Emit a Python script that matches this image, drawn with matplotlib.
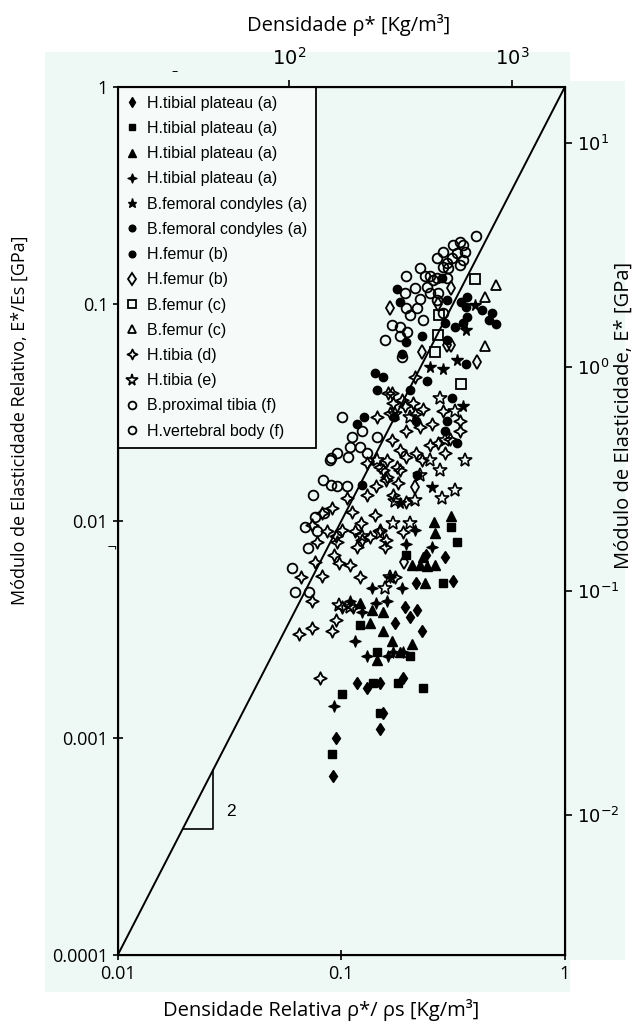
import numpy as np
import matplotlib
matplotlib.use("Agg")
import matplotlib.pyplot as plt
from matplotlib.path import Path
from matplotlib.patches import Rectangle
from matplotlib.lines import Line2D
from matplotlib.ticker import NullLocator

# ---------- data (relative density, relative modulus) ----------
tp_diam_x = [0.291, 0.216, 0.317, 0.192, 0.218, 0.174, 0.202, 0.229, 0.118, 0.131, 0.149, 0.188, 0.095, 0.149, 0.153, 0.092, 0.240]
tp_diam_y = [0.0068, 0.0052, 0.0053, 0.0040, 0.0039, 0.0034, 0.0036, 0.0031, 0.0018, 0.0017, 0.0018, 0.0019, 0.0010, 0.0011, 0.0013, 0.00067, 0.0070]

tp_sq_x = [0.195, 0.284, 0.310, 0.330, 0.121, 0.145, 0.202, 0.138, 0.179, 0.231, 0.101, 0.149, 0.091]
tp_sq_y = [0.0070, 0.0052, 0.0094, 0.0080, 0.0033, 0.0025, 0.0024, 0.0018, 0.0018, 0.0017, 0.0016, 0.0013, 0.00084]

tp_tri_x = [0.260, 0.310, 0.262, 0.231, 0.207, 0.224, 0.243, 0.262, 0.236, 0.121, 0.137, 0.153, 0.134, 0.153, 0.207, 0.183, 0.145, 0.168]
tp_tri_y = [0.0099, 0.0105, 0.0088, 0.0068, 0.0063, 0.0063, 0.0062, 0.0063, 0.0052, 0.0042, 0.0039, 0.0038, 0.0034, 0.0031, 0.0027, 0.0025, 0.0023, 0.0028]

tp_x4_x = [0.109, 0.143, 0.165, 0.124, 0.160, 0.115, 0.131, 0.161, 0.188, 0.213, 0.255, 0.093, 0.137, 0.186, 0.195, 0.170]
tp_x4_y = [0.0043, 0.0042, 0.0055, 0.0038, 0.0043, 0.0028, 0.0024, 0.0024, 0.0025, 0.0091, 0.0076, 0.0014, 0.0049, 0.0049, 0.0078, 0.0025]

fc_star_x = [0.396, 0.360, 0.330, 0.249, 0.284, 0.350, 0.255, 0.183]
fc_star_y = [0.099, 0.076, 0.055, 0.051, 0.050, 0.034, 0.0143, 0.0121]

fc_circ_x = [0.178, 0.183, 0.281, 0.296, 0.366, 0.360, 0.345, 0.366, 0.350, 0.425, 0.470, 0.490, 0.460]
fc_circ_y = [0.117, 0.102, 0.132, 0.104, 0.108, 0.097, 0.102, 0.087, 0.082, 0.094, 0.091, 0.081, 0.084]

hf_circ_x = [0.322, 0.296, 0.186, 0.360, 0.243, 0.202, 0.313, 0.172, 0.296, 0.291, 0.330, 0.153, 0.141, 0.145,
             0.117, 0.127, 0.124, 0.218, 0.230, 0.291, 0.195, 0.216]
hf_circ_y = [0.078, 0.068, 0.059, 0.053, 0.044, 0.040, 0.037, 0.030, 0.029, 0.026, 0.023, 0.046, 0.048, 0.040,
             0.028, 0.030, 0.0147, 0.0163, 0.071, 0.082, 0.067, 0.029]

hf_diam_x = [0.165, 0.310, 0.310, 0.406, 0.229, 0.296, 0.213, 0.190, 0.270]
hf_diam_y = [0.096, 0.119, 0.065, 0.054, 0.060, 0.065, 0.0144, 0.0065, 0.100]

bf_sq_x = [0.396, 0.273, 0.270, 0.262, 0.345]
bf_sq_y = [0.130, 0.089, 0.072, 0.060, 0.043]

bf_tri_x = [0.490, 0.440, 0.440]
bf_tri_y = [0.122, 0.108, 0.064]

ht_d_x = [0.082, 0.091, 0.074, 0.086, 0.095, 0.101, 0.078, 0.096, 0.093, 0.076, 0.098, 0.082, 0.066, 0.074,
          0.109, 0.121, 0.101, 0.095, 0.074, 0.065, 0.091, 0.080, 0.106, 0.112, 0.123, 0.115, 0.124, 0.118,
          0.134, 0.149, 0.159, 0.157, 0.131, 0.143, 0.159, 0.153, 0.177, 0.179, 0.170, 0.141, 0.188, 0.174,
          0.113, 0.195, 0.170, 0.192, 0.210, 0.213, 0.231, 0.195, 0.224, 0.255, 0.284, 0.339, 0.339, 0.306,
          0.270, 0.249, 0.216, 0.195, 0.229, 0.291, 0.183, 0.160, 0.213, 0.168, 0.144, 0.165, 0.186, 0.162,
          0.168, 0.131, 0.149, 0.160, 0.183]
ht_d_y = [0.0109, 0.0115, 0.0096, 0.0090, 0.0085, 0.0091, 0.0080, 0.0080, 0.0070, 0.0065, 0.0064, 0.0056, 0.0055, 0.0043,
          0.0063, 0.0055, 0.0040, 0.0035, 0.0032, 0.0030, 0.0031, 0.0019, 0.0128, 0.0110, 0.0098, 0.0090, 0.0082, 0.0076,
          0.0084, 0.0091, 0.0082, 0.0076, 0.0132, 0.0145, 0.0155, 0.0172, 0.0178, 0.0150, 0.0132, 0.0107, 0.0089, 0.0055,
          0.0040, 0.0122, 0.035, 0.034, 0.035, 0.031, 0.033, 0.026, 0.027, 0.028, 0.032, 0.029, 0.026, 0.024,
          0.023, 0.0224, 0.0206, 0.0198, 0.0191, 0.0206, 0.0212, 0.0191, 0.046, 0.039, 0.030, 0.0315, 0.036, 0.039,
          0.0236, 0.0185, 0.0178, 0.0160, 0.0172]

ht_e_x = [0.174, 0.213, 0.202, 0.170, 0.149, 0.276, 0.291, 0.249, 0.224, 0.174, 0.124, 0.165, 0.157, 0.109,
          0.098, 0.322, 0.276, 0.202, 0.145, 0.357, 0.322, 0.281]
ht_e_y = [0.0124, 0.0125, 0.0098, 0.0098, 0.0088, 0.0172, 0.0236, 0.0191, 0.0163, 0.031, 0.0085, 0.0055, 0.0049, 0.0040,
          0.0041, 0.032, 0.037, 0.030, 0.0191, 0.0191, 0.0139, 0.0128]

pt_circ_x = [0.400, 0.339, 0.350, 0.317, 0.357, 0.284, 0.328, 0.313, 0.350, 0.339, 0.296, 0.284, 0.195, 0.236,
             0.249, 0.256, 0.267, 0.296, 0.213, 0.243, 0.249, 0.270, 0.267, 0.157, 0.183, 0.202, 0.183, 0.197,
             0.186, 0.195, 0.218, 0.224, 0.284, 0.231, 0.168, 0.192, 0.224, 0.267, 0.300]
pt_circ_y = [0.206, 0.193, 0.187, 0.187, 0.173, 0.173, 0.172, 0.163, 0.160, 0.151, 0.154, 0.148, 0.134, 0.134,
             0.134, 0.129, 0.132, 0.132, 0.119, 0.120, 0.112, 0.112, 0.104, 0.068, 0.078, 0.089, 0.071, 0.074,
             0.057, 0.096, 0.096, 0.106, 0.091, 0.084, 0.080, 0.113, 0.147, 0.163, 0.147]

vb_circ_x = [0.101, 0.112, 0.124, 0.144, 0.109, 0.121, 0.090, 0.096, 0.107, 0.130, 0.083, 0.090, 0.096, 0.106,
             0.075, 0.084, 0.076, 0.069, 0.071, 0.060, 0.062, 0.072, 0.078, 0.089]
vb_circ_y = [0.030, 0.0245, 0.026, 0.0245, 0.022, 0.022, 0.0196, 0.0205, 0.0198, 0.0205, 0.0155, 0.0147, 0.0145, 0.0145,
             0.0132, 0.0109, 0.0104, 0.0094, 0.0075, 0.0061, 0.0047, 0.0047, 0.0090, 0.0191]

labels = ["H.tibial plateau (a)", "H.tibial plateau (a)", "H.tibial plateau (a)", "H.tibial plateau (a)",
          "B.femoral condyles (a)", "B.femoral condyles (a)", "H.femur (b)", "H.femur (b)",
          "B.femur (c)", "B.femur (c)", "H.tibia (d)", "H.tibia (e)",
          "B.proximal tibia (f)", "H.vertebral body (f)"]

# slope-2 guide line and the little triangle
line_x = [0.01, 1.0]
line_y = [1e-4, 1.0]
tri_x = [0.0195, 0.0266, 0.0266]
tri_y = [0.00038, 0.00038, 0.00071]

MINT = "#eef8f5"

# 4-pointed star markers (open and filled)
r = 0.32
star4 = Path([(0, 1), (r, r), (1, 0), (r, -r), (0, -1), (-r, -r), (-1, 0), (-r, r), (0, 1)],
             [Path.MOVETO] + [Path.LINETO] * 7 + [Path.CLOSEPOLY])
r2 = 0.28
star4f = Path([(0, 1), (r2, r2), (1, 0), (r2, -r2), (0, -1), (-r2, -r2), (-1, 0), (-r2, r2), (0, 1)],
              [Path.MOVETO] + [Path.LINETO] * 7 + [Path.CLOSEPOLY])

fig = plt.figure(figsize=(6.4, 10.35), dpi=100)
fig.patches.append(Rectangle((0.070, 0.0415), 0.821, 0.908, transform=fig.transFigure,
                             facecolor=MINT, edgecolor="none", zorder=-5))
fig.patches.append(Rectangle((0.883, 0.072), 0.094, 0.850, transform=fig.transFigure,
                             facecolor=MINT, edgecolor="none", zorder=-5))

ax = fig.add_axes([0.184, 0.0773, 0.6985, 0.8386])
ax.set_facecolor(MINT)
ax.set_xscale("log")
ax.set_yscale("log")
ax.set_xlim(0.01, 1)
ax.set_ylim(1e-4, 1)

ax.plot(line_x, line_y, color="black", lw=1.4, zorder=2)
ax.plot(tri_x, tri_y, color="black", lw=1.2, zorder=2)
ax.text(0.0305, 0.00046, "2", fontsize=12.5, family="Liberation Sans", ha="left", va="center")

series = [
    (tp_diam_x, tp_diam_y, dict(marker="d", ms=6.5, mfc="black", mec="black")),
    (tp_sq_x, tp_sq_y, dict(marker="s", ms=5.2, mfc="black", mec="black")),
    (tp_tri_x, tp_tri_y, dict(marker="^", ms=6.5, mfc="black", mec="black")),
    (tp_x4_x, tp_x4_y, dict(marker=star4f, ms=8.0, mfc="black", mec="black")),
    (fc_star_x, fc_star_y, dict(marker="*", ms=8.5, mfc="black", mec="black")),
    (fc_circ_x, fc_circ_y, dict(marker="o", ms=6.0, mfc="black", mec="black")),
    (hf_circ_x, hf_circ_y, dict(marker="o", ms=6.0, mfc="black", mec="black")),
    (hf_diam_x, hf_diam_y, dict(marker="d", ms=7.5, mfc="none", mec="black", mew=1.3)),
    (bf_sq_x, bf_sq_y, dict(marker="s", ms=6.5, mfc="none", mec="black", mew=1.3)),
    (bf_tri_x, bf_tri_y, dict(marker="^", ms=7.5, mfc="none", mec="black", mew=1.3)),
    (ht_d_x, ht_d_y, dict(marker=star4, ms=9.0, mfc="none", mec="black", mew=1.3)),
    (ht_e_x, ht_e_y, dict(marker="*", ms=10.5, mfc="none", mec="black", mew=1.2)),
    (pt_circ_x, pt_circ_y, dict(marker="o", ms=7.0, mfc="none", mec="black", mew=1.3)),
    (vb_circ_x, vb_circ_y, dict(marker="o", ms=7.0, mfc="none", mec="black", mew=1.3)),
]

handles = []
for (xs, ys, st), lab in zip(series, labels):
    ax.plot(xs, ys, linestyle="none", zorder=3, **st)
    handles.append(Line2D([], [], linestyle="none", label=lab, **st))

leg = ax.legend(handles=handles, loc="upper left", bbox_to_anchor=(0, 1), borderaxespad=0,
                frameon=True, fancybox=False, framealpha=1, facecolor="#f6fbfa", edgecolor="black",
                prop={"family": "Liberation Sans", "size": 11.5}, labelspacing=0.64,
                handlelength=0.7, handletextpad=0.55, borderpad=0.55, markerscale=0.8)
leg.get_frame().set_linewidth(1.3)
leg.set_zorder(5)

ax.xaxis.set_minor_locator(NullLocator())
ax.yaxis.set_minor_locator(NullLocator())
ax.set_xticks([0.01, 0.1, 1])
ax.set_xticklabels(["0.01", "0.1", "1"])
ax.set_yticks([1e-4, 1e-3, 1e-2, 0.1, 1])
ax.set_yticklabels(["0.0001", "0.001", "0.01", "0.1", "1"])
ax.tick_params(direction="inout", length=7, width=1.2, labelsize=13)
for lab in ax.get_xticklabels() + ax.get_yticklabels():
    lab.set_family("Open Sans")
for s in ax.spines.values():
    s.set_linewidth(1.5)

# top axis: density
axt = ax.twiny()
axt.set_xscale("log")
axt.set_xlim(10 ** 1.23, 10 ** 3.235)
axt.xaxis.set_minor_locator(NullLocator())
axt.set_xticks([100, 1000])
axt.set_xticklabels([r"$10^2$", r"$10^3$"])
axt.tick_params(direction="out", length=5, width=1.2, labelsize=14, pad=8)

# right axis: modulus
axr = ax.twinx()
axr.set_yscale("log")
axr.set_ylim(10 ** -2.625, 10 ** 1.25)
axr.yaxis.set_minor_locator(NullLocator())
axr.set_yticks([1e-2, 1e-1, 1, 10])
axr.set_yticklabels([r"$10^{-2}$", r"$10^{-1}$", r"$10^0$", r"$10^1$"])
axr.tick_params(direction="out", length=5, width=1.2, labelsize=13)

# scan specks from the original page
fig.text(175 / 640, 1 - 72 / 1035, "–", fontsize=9, ha="center", va="center")
fig.text(112 / 640, 1 - 548 / 1035, "¬", fontsize=9, ha="center", va="center")

fig.text(0.544, 1 - 25 / 1035, "Densidade ρ* [Kg/m³]", ha="center", va="center", fontsize=14.5, family="Open Sans")
fig.text(0.502, 1 - 1010 / 1035, "Densidade Relativa ρ*/ ρs [Kg/m³]", ha="center", va="center", fontsize=14.5, family="Open Sans")
fig.text(20 / 640, 1 - 420 / 1035, "Módulo de Elasticidade Relativo, E*/Es [GPa]", ha="center", va="center",
         rotation=90, fontsize=13, family="Open Sans")
fig.text(624 / 640, 1 - 415 / 1035, "Módulo de Elasticidade, E* [GPa]", ha="center", va="center",
         rotation=90, fontsize=14.5, family="Open Sans")

fig.savefig("out.png", dpi=100, facecolor="white")
